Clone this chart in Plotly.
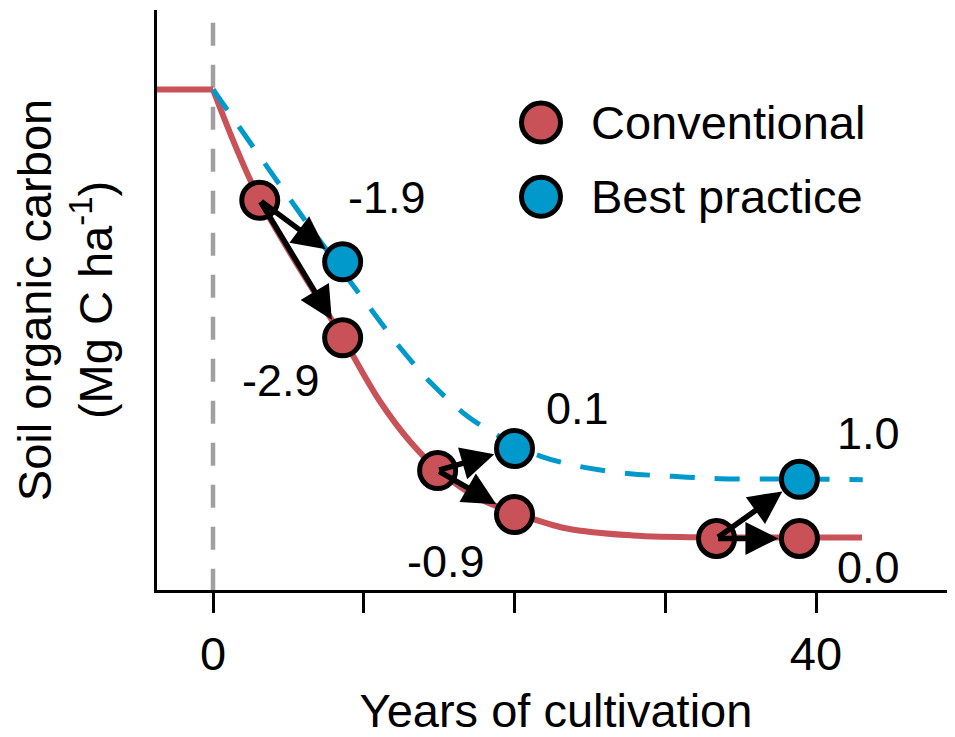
import plotly.graph_objects as go

# ---------------- data ----------------
# Soil organic carbon is shown on an unlabelled relative scale (0-100)
plateau_years = [-4.0, 0.0]
plateau_soc = [86.3, 86.3]

conv_curve_years = [0.0, 3.12, 8.62, 11.08, 13.07, 14.93, 17.71, 20.17, 23.48, 27.86, 33.37, 38.81, 43.05]
conv_curve_soc = [86.3, 67.2, 43.4, 32.5, 25.6, 20.7, 15.7, 13.2, 10.6, 9.4, 9.06, 9.06, 9.06]

best_curve_years = [0.0, 6.2, 10.1, 12.5, 14.5, 16.9, 18.8, 20.0, 21.7, 24.3, 27.5, 30.5, 33.6, 38.8, 43.1]
best_curve_soc = [86.3, 63.4, 49.7, 41.5, 35.6, 29.9, 26.8, 25.0, 23.1, 21.3, 20.1, 19.6, 19.2, 19.15, 19.0]

years_start = [3.1, 14.9, 33.4]
years_end = [8.6, 20.0, 38.9]
conv_start_soc = [67.2, 20.6, 8.9]
conv_end_soc = [43.5, 13.0, 8.9]
best_end_soc = [56.6, 24.4, 19.1]

change_best = ["-1.9", "0.1", "1.0"]
change_conv = ["-2.9", "-0.9", "0.0"]

series_names = ["Conventional", "Best practice"]
x_tick_vals = [0, 10, 20, 30, 40]
x_tick_text = ["0", "", "", "", "40"]

# ---------------- styles ----------------
RED = "#C95258"
BLUE = "#0099CC"
GREY = "#A0A0A0"
FONT = "Liberation Sans, Arial, sans-serif"

fig = go.Figure()

fig.add_trace(go.Scatter(x=plateau_years, y=plateau_soc, mode="lines",
                         line=dict(color=RED, width=6), showlegend=False, hoverinfo="skip"))
fig.add_trace(go.Scatter(x=conv_curve_years, y=conv_curve_soc, mode="lines",
                         line=dict(color=RED, width=6, shape="spline", smoothing=1.0),
                         showlegend=False, hoverinfo="skip"))
fig.add_trace(go.Scatter(x=best_curve_years, y=best_curve_soc, mode="lines",
                         line=dict(color=BLUE, width=5, dash="25px,20px", shape="spline", smoothing=1.0),
                         showlegend=False, hoverinfo="skip"))

# markers
fig.add_trace(go.Scatter(x=years_start + years_end, y=conv_start_soc + conv_end_soc, mode="markers",
                         marker=dict(color=RED, size=36, line=dict(color="black", width=5)),
                         name=series_names[0], showlegend=False))
fig.add_trace(go.Scatter(x=years_end, y=best_end_soc, mode="markers",
                         marker=dict(color=BLUE, size=36, line=dict(color="black", width=5)),
                         name=series_names[1], showlegend=False))

# arrows
arrow_style = dict(showarrow=True, text="", xref="x", yref="y", axref="x", ayref="y",
                   arrowhead=2, arrowsize=1.2, arrowwidth=5.5, arrowcolor="black",
                   standoff=21, startstandoff=0)
for i in range(3):
    fig.add_annotation(x=years_end[i], y=best_end_soc[i], ax=years_start[i], ay=conv_start_soc[i], **arrow_style)
    fig.add_annotation(x=years_end[i], y=conv_end_soc[i], ax=years_start[i], ay=conv_start_soc[i], **arrow_style)

# change labels (text positions)
best_label_pos = [(11.55, 67.7), (24.2, 31.3), (43.5, 27.0)]
conv_label_pos = [(4.5, 36.1), (15.45, 5.0), (43.5, 3.8)]
for i in range(3):
    for txt, (lx, ly) in ((change_best[i], best_label_pos[i]), (change_conv[i], conv_label_pos[i])):
        fig.add_annotation(x=lx, y=ly, xref="x", yref="y", text=txt, showarrow=False,
                           font=dict(family=FONT, size=45, color="black"),
                           xanchor="center", yanchor="middle")

# vertical dashed line at start of cultivation
fig.add_shape(type="line", xref="x", yref="y", x0=0, x1=0, y0=97.8, y1=0,
              line=dict(color=GREY, width=4.5, dash="23px,19px"), layer="below")

# manual legend (large symbols)
legend_y = [0.806, 0.678]
legend_colors = [RED, BLUE]
for name, col, ly in zip(series_names, legend_colors, legend_y):
    fig.add_shape(type="circle", xref="paper", yref="paper", xsizemode="pixel", ysizemode="pixel",
                  xanchor=0.4812, yanchor=ly, x0=-19.5, x1=19.5, y0=-19.5, y1=19.5,
                  fillcolor=col, line=dict(color="black", width=5))
    fig.add_annotation(x=0.5415, y=ly, xref="paper", yref="paper", text=name, showarrow=False,
                       xanchor="left", yanchor="middle",
                       font=dict(family=FONT, size=47, color="black"))

fig.update_xaxes(range=[-3.715, 49.22], tickmode="array", tickvals=x_tick_vals, ticktext=x_tick_text,
                 ticks="outside", ticklen=20, tickwidth=3, tickcolor="black",
                 showline=True, linewidth=3, linecolor="black", showgrid=False, zeroline=False,
                 tickfont=dict(family=FONT, size=47, color="black"), ticklabelstandoff=1,
                 title=dict(text="Years of cultivation", font=dict(family=FONT, size=47, color="black"),
                            standoff=24))
fig.update_yaxes(range=[0, 100], showline=True, linewidth=3, linecolor="black", showgrid=False,
                 zeroline=False, showticklabels=False, ticks="",
                 title=dict(text="Soil organic carbon<br>(Mg C ha<sup>-1</sup>)",
                            font=dict(family=FONT, size=47, color="black"), standoff=30))

# the page body adds an 8px offset, so the figure is 8px smaller than the window
fig.update_layout(width=947, height=729, autosize=False,
                  margin=dict(l=149, r=0, t=2, b=142),
                  paper_bgcolor="white", plot_bgcolor="white",
                  font=dict(family=FONT, color="black"), showlegend=False)

fig.write_html("out.html")
